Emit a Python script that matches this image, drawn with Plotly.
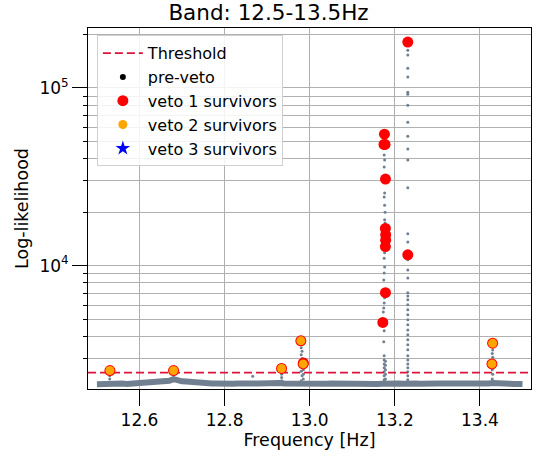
import plotly.graph_objects as go

# ---------------- data ----------------
title = "Band: 12.5-13.5Hz"
threshold = 2500

# pre-veto baseline (read every 0.01 Hz from 12.50 to 13.50)
baseline_vals = [
    2150, 2160, 2165, 2175, 2160, 2165, 2170, 2160, 2170, 2175,
    2170, 2180, 2195, 2210, 2245, 2215, 2235, 2250, 2300, 2255,
    2235, 2230, 2215, 2200, 2195, 2185, 2175, 2170, 2175, 2165,
    2170, 2175, 2165, 2170, 2180, 2170, 2165, 2175, 2170, 2180,
    2170, 2165, 2175, 2185, 2175, 2170, 2165, 2170, 2190, 2185,
    2170, 2165, 2175, 2170, 2165, 2175, 2170, 2165, 2170, 2175,
    2165, 2170, 2175, 2165, 2170, 2165, 2160, 2165, 2175, 2170,
    2165, 2170, 2165, 2180, 2175, 2170, 2165, 2175, 2170, 2165,
    2175, 2170, 2165, 2175, 2170, 2180, 2170, 2165, 2170, 2175,
    2165, 2170, 2175, 2185, 2170, 2175, 2170, 2165, 2160, 2165,
    2155,
]
baseline_freq = [round(12.50 + 0.01 * i, 2) for i in range(len(baseline_vals))]

# pre-veto outliers (stems and the two spike columns)
spike_freq = [
    12.530, 12.530, 12.530, 12.530,
    12.680, 12.680,
    12.934, 12.934, 12.934, 12.934,
    12.866,
    12.980, 12.982, 12.980, 12.982, 12.980, 12.982, 12.980, 12.982, 12.980, 12.982,
    12.985, 12.985, 12.985,
    13.429, 13.430, 13.429, 13.430, 13.429, 13.430, 13.429, 13.430, 13.429,
    # column at ~13.175
    13.175, 13.175, 13.175, 13.175, 13.175, 13.175, 13.175,
    13.178, 13.178, 13.178, 13.178, 13.178,
    13.174, 13.175, 13.173, 13.174, 13.175, 13.176, 13.174, 13.175, 13.176, 13.175,
    13.176, 13.177, 13.176, 13.177, 13.176, 13.175, 13.176, 13.176, 13.175, 13.176,
    13.175, 13.175,
    # column at ~13.2305
    13.2305, 13.2305, 13.2305, 13.2305, 13.2305, 13.2305, 13.2305, 13.2305, 13.2305, 13.2305,
    13.2305, 13.2305, 13.2305, 13.2305, 13.2305, 13.2305, 13.2305, 13.2305, 13.2305, 13.2305,
    13.2305, 13.2305, 13.2305, 13.2305, 13.2305, 13.2305, 13.2305, 13.2305, 13.2305, 13.2305,
    13.2305, 13.2305, 13.2305, 13.2305, 13.2305, 13.2305, 13.2305,
]
spike_vals = [
    2200, 2300, 2400, 2500,
    2350, 2450,
    2250, 2350, 2450, 2550,
    2390,
    2250, 2400, 2550, 2700, 2850, 3000, 3150, 3300, 3450, 3600,
    2300, 2450, 2600,
    2300, 2450, 2600, 2750, 2900, 3050, 3200, 3350, 3500,
    2280, 2400, 2530, 2660, 2800, 2950, 3110,
    2300, 2450, 2600, 2750, 2900,
    3730, 4300, 5490, 5780, 6170, 6590, 8310, 9100, 9830, 11000,
    11800, 17400, 18100, 20000, 21900, 24300, 25600, 31100, 35900, 39300,
    41900, 45800,
    2280, 2400, 2530, 2660, 2800, 2950, 3110, 3360, 3590, 3830,
    4080, 4350, 4650, 4960, 5290, 5640, 6020, 6420, 6750, 7030,
    8530, 9460, 10800, 13600, 15100, 27400, 39300, 45300, 53500, 64000,
    80000, 92000, 94600, 115000, 129000, 153000, 163000,
]

# veto 1 survivors
veto1_freq = [13.2305, 13.1756, 13.1745, 13.1770, 13.1780, 13.1778, 13.1785, 13.1785,
              13.1778, 13.2305, 13.1780, 13.1718,
              12.5305, 12.6800, 12.9338, 12.9792, 12.9846, 12.9850, 13.4298, 13.4282]
veto1_vals = [181000, 54900, 48100, 48100, 30700, 16200, 14900, 13900,
              12800, 11500, 7050, 4790,
              2570, 2570, 2640, 3776, 2800, 2830, 3660, 2800]

# veto 2 survivors
veto2_freq = [12.5305, 12.6800, 12.9338, 12.9792, 12.9846, 13.4298, 13.4282]
veto2_vals = [2570, 2570, 2640, 3776, 2800, 3660, 2800]

# veto 3 survivors (none)
veto3_freq = []
veto3_vals = []

x_ticks = [12.6, 12.8, 13.0, 13.2, 13.4]
y_major = [1e4, 1e5]
y_major_text = ["10<sup>4</sup>", "10<sup>5</sup>"]
x_range = [12.479, 13.520]
y_range_log = [3.306, 5.337]

# ---------------- figure ----------------
FONT = "DejaVu Sans"
GRAY = "#708090"
fig = go.Figure()

fig.add_trace(go.Scatter(x=baseline_freq, y=baseline_vals, mode="lines",
                         line=dict(color=GRAY, width=6), showlegend=False,
                         hoverinfo="skip"))
fig.add_trace(go.Scatter(x=spike_freq, y=spike_vals, mode="markers",
                         marker=dict(color=GRAY, size=3), showlegend=False))
fig.add_trace(go.Scatter(x=x_range, y=[threshold, threshold], mode="lines",
                         line=dict(color="#DC143C", width=1.8, dash="8px,4px"),
                         name="Threshold", legendrank=1))
fig.add_trace(go.Scatter(x=[None], y=[None], mode="markers",
                         marker=dict(color="black", size=6),
                         name="pre-veto", legendrank=2))
fig.add_trace(go.Scatter(x=veto1_freq, y=veto1_vals, mode="markers",
                         marker=dict(color="#FF0000", size=11),
                         name="veto 1 survivors", legendrank=3))
fig.add_trace(go.Scatter(x=veto2_freq, y=veto2_vals, mode="markers",
                         marker=dict(color="#FFA500", size=9),
                         name="veto 2 survivors", legendrank=4))
fig.add_trace(go.Scatter(x=veto3_freq if veto3_freq else [None],
                         y=veto3_vals if veto3_vals else [None], mode="markers",
                         marker=dict(color="#0000FF", size=11, symbol="star"),
                         name="veto 3 survivors", legendrank=5))

axis_common = dict(showline=True, linecolor="black", linewidth=1, mirror=True,
                   automargin=False,
                   ticks="outside", tickcolor="black", tickfont=dict(family=FONT, size=17, color="black"),
                   showgrid=True, gridcolor="#b0b0b0", gridwidth=1, zeroline=False)

fig.update_xaxes(range=x_range, tickvals=x_ticks, tickformat=".1f", ticklen=16,
                 title=dict(text="Frequency [Hz]", font=dict(family=FONT, size=17.5, color="black"),
                            standoff=3),
                 **axis_common)
fig.update_yaxes(type="log", range=y_range_log, tickvals=y_major, ticktext=y_major_text,
                 ticklen=15,
                 minor=dict(dtick="D1", showgrid=True, gridcolor="#b0b0b0", gridwidth=1,
                            ticks="outside", ticklen=4, tickcolor="black"),
                 title=dict(text="Log-likelihood", font=dict(family=FONT, size=17.5, color="black"),
                            standoff=6),
                 **axis_common)

fig.update_layout(
    width=537, height=459,
    margin=dict(l=88, r=6, t=28, b=70),
    paper_bgcolor="white", plot_bgcolor="white",
    font=dict(family=FONT, size=16, color="black"),
    title=dict(text=title, x=0.5, xanchor="center", y=0.972, yanchor="middle",
               font=dict(family=FONT, size=21.5, color="black")),
    legend=dict(x=0.02, y=0.98, xanchor="left", yanchor="top",
                bgcolor="rgba(255,255,255,0.85)", bordercolor="#d0d0d0", borderwidth=1,
                font=dict(family=FONT, size=16, color="black"), itemwidth=40),
    showlegend=True,
)

fig.write_html("out.html", config={"displayModeBar": False},
               post_script="document.body.style.margin='0';document.body.style.padding='0';")
